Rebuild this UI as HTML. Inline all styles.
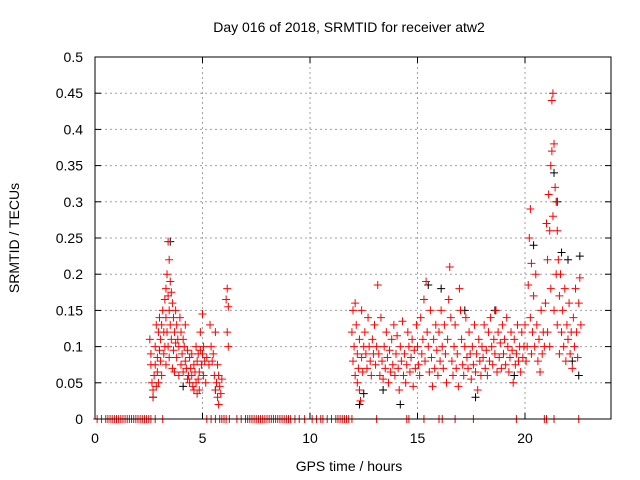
<!DOCTYPE html>
<html><head><meta charset="utf-8"><style>
html,body{margin:0;padding:0;background:#fff;}
svg{display:block;font-family:"Liberation Sans",sans-serif;}
</style></head><body>
<svg id="chart" width="640" height="480" xmlns="http://www.w3.org/2000/svg">
<text x="349" y="32" text-anchor="middle" font-size="14">Day 016 of 2018, SRMTID for receiver atw2</text>
<text x="349" y="471" text-anchor="middle" font-size="14">GPS time / hours</text>
<text transform="translate(19,238) rotate(-90)" text-anchor="middle" font-size="14">SRMTID / TECUs</text>
<g id="grid"></g>
<g id="ticks"></g>
<g id="black"></g>
<g id="red"></g>
<rect x="95" y="57" width="516" height="362" fill="none" stroke="#000" stroke-width="1"/>
</svg>
<script>
const xTicks=[0,5,10,15,20];
const yTicks=[0,0.05,0.1,0.15,0.2,0.25,0.3,0.35,0.4,0.45,0.5];
const yTickLabels=["0","0.05","0.1","0.15","0.2","0.25","0.3","0.35","0.4","0.45","0.5"];
const xMax=24, yMax=0.5;
const zeroHours=[0.1,0.3,0.5,0.6,0.7,0.8,0.9,1.0,1.1,1.2,1.3,1.4,1.5,1.6,1.7,1.8,1.9,2.0,2.1,2.2,2.3,2.4,2.5,2.6,2.8,3.15,5.2,5.4,5.6,5.8,5.9,6.0,6.1,6.25,6.6,6.8,7.0,7.1,7.2,7.3,7.4,7.5,7.6,7.7,7.8,7.9,8.0,8.1,8.2,8.3,8.4,8.5,8.6,8.7,8.8,8.9,9.0,9.1,9.3,9.5,9.75,10.1,10.3,10.5,10.6,10.8,11.0,11.2,11.3,11.4,11.5,11.6,11.7,11.8,11.95,13.1,14.5,14.6,15.3,16.0,16.15,16.75,17.6,19.6,20.9,21.0,21.35,22.5];
const blackPts=[[2.7,0.03],[3.5,0.245],[5.6,0.04],[12.3,0.02],[12.5,0.035],[15.5,0.185],[16.1,0.18],[17.2,0.15],[18.6,0.15],[20.4,0.24],[21.35,0.34],[21.5,0.3],[21.7,0.23],[22.0,0.22],[22.55,0.225],[22.5,0.06],[22.2,0.08],[17.7,0.03],[14.2,0.02],[4.1,0.045],[13.4,0.04],[19.5,0.06]];
const redPts=[[2.55,0.11],[2.6,0.09],[2.6,0.075],[2.65,0.05],[2.7,0.04],[2.7,0.03],[2.75,0.06],[2.8,0.1],[2.8,0.075],[2.85,0.13],[2.85,0.045],[2.9,0.085],[2.9,0.065],[2.95,0.12],[2.95,0.05],[3.0,0.14],[3.0,0.095],[3.05,0.08],[3.05,0.11],[3.1,0.13],[3.1,0.06],
[3.15,0.15],[3.2,0.12],[3.2,0.09],[3.25,0.165],[3.25,0.1],[3.3,0.18],[3.3,0.14],[3.3,0.075],[3.35,0.2],[3.35,0.12],[3.4,0.245],[3.4,0.17],[3.4,0.1],[3.45,0.22],[3.45,0.15],[3.45,0.085],[3.5,0.19],[3.5,0.13],[3.55,0.175],[3.55,0.11],[3.6,0.16],[3.6,0.07],[3.65,0.14],[3.65,0.095],[3.7,0.12],[3.7,0.065],[3.75,0.105],[3.75,0.15],[3.8,0.13],[3.8,0.085],
[3.85,0.11],[3.9,0.1],[3.9,0.06],[3.95,0.14],[4.0,0.12],[4.0,0.075],[4.05,0.09],[4.1,0.11],[4.1,0.065],[4.15,0.1],[4.2,0.08],[4.2,0.13],[4.25,0.07],[4.3,0.095],[4.3,0.055],[4.35,0.06],[4.4,0.085],[4.4,0.05],[4.45,0.07],[4.5,0.09],[4.5,0.06],[4.55,0.045],[4.6,0.075],[4.6,0.04],[4.65,0.065],
[4.7,0.05],[4.7,0.1],[4.75,0.035],[4.75,0.08],[4.8,0.055],[4.8,0.09],[4.85,0.04],[4.85,0.065],[4.9,0.095],[4.9,0.12],[4.95,0.075],[5.0,0.145],[5.0,0.09],[5.05,0.06],[5.05,0.1],[5.1,0.08],[5.15,0.05],[5.2,0.085],
[5.3,0.075],[5.35,0.13],[5.4,0.1],[5.45,0.08],[5.5,0.09],[5.55,0.06],[5.6,0.12],[5.6,0.04],[5.65,0.05],[5.7,0.03],[5.7,0.075],[5.75,0.02],[5.75,0.06],[5.8,0.045],[5.85,0.035],[5.9,0.055],[6.1,0.165],[6.15,0.18],[6.15,0.12],[6.2,0.155],[6.2,0.1],
[11.95,0.12],[12.0,0.15],[12.0,0.08],[12.05,0.1],[12.1,0.16],[12.1,0.06],[12.15,0.13],[12.2,0.09],[12.2,0.05],[12.25,0.07],[12.3,0.11],[12.3,0.04],[12.35,0.025],[12.4,0.085],[12.4,0.15],[12.45,0.065],[12.5,0.1],[12.55,0.12],[12.6,0.09],[12.65,0.07],[12.7,0.14],[12.75,0.1],[12.8,0.08],[12.85,0.06],[12.9,0.11],[12.95,0.09],
[13.0,0.13],[13.05,0.075],[13.1,0.1],[13.15,0.185],[13.2,0.09],[13.25,0.06],[13.3,0.14],[13.35,0.08],[13.4,0.055],[13.45,0.1],[13.5,0.07],[13.55,0.12],[13.6,0.085],[13.65,0.05],[13.7,0.095],[13.75,0.065],[13.8,0.11],[13.85,0.075],[13.9,0.13],[13.95,0.06],
[14.0,0.09],[14.05,0.115],[14.1,0.07],[14.15,0.04],[14.2,0.1],[14.25,0.08],[14.3,0.135],[14.35,0.06],[14.4,0.09],[14.45,0.05],[14.5,0.075],[14.55,0.12],[14.6,0.1],[14.65,0.065],[14.7,0.085],[14.75,0.11],[14.8,0.045],[14.85,0.095],[14.9,0.07],[14.95,0.13],
[15.0,0.1],[15.05,0.075],[15.1,0.06],[15.15,0.14],[15.2,0.09],[15.25,0.11],[15.3,0.165],[15.35,0.08],[15.4,0.19],[15.45,0.12],[15.5,0.1],[15.55,0.065],[15.6,0.15],[15.65,0.085],[15.7,0.045],[15.75,0.11],[15.8,0.07],[15.85,0.13],[15.9,0.095],[15.95,0.06],
[16.0,0.12],[16.05,0.08],[16.1,0.15],[16.15,0.1],[16.2,0.07],[16.25,0.13],[16.3,0.09],[16.35,0.05],[16.4,0.11],[16.45,0.165],[16.5,0.21],[16.55,0.14],[16.6,0.08],[16.65,0.06],[16.7,0.1],[16.75,0.13],[16.8,0.07],[16.85,0.09],[16.9,0.045],[16.95,0.18],
[17.0,0.15],[17.05,0.11],[17.1,0.075],[17.15,0.06],[17.2,0.1],[17.25,0.14],[17.3,0.085],[17.35,0.07],[17.4,0.12],[17.45,0.09],[17.5,0.055],[17.55,0.1],[17.6,0.075],[17.65,0.13],[17.7,0.065],[17.75,0.09],[17.8,0.04],[17.85,0.11],[17.9,0.08],[17.95,0.06],
[18.0,0.1],[18.05,0.085],[18.1,0.13],[18.15,0.07],[18.2,0.095],[18.25,0.06],[18.3,0.12],[18.35,0.08],[18.4,0.14],[18.45,0.1],[18.5,0.075],[18.55,0.11],[18.6,0.09],[18.65,0.15],[18.7,0.065],[18.75,0.12],[18.8,0.085],[18.85,0.105],[18.9,0.07],[18.95,0.13],
[19.0,0.09],[19.05,0.11],[19.1,0.075],[19.15,0.14],[19.2,0.1],[19.25,0.065],[19.3,0.085],[19.35,0.12],[19.4,0.095],[19.45,0.05],[19.5,0.11],[19.55,0.075],[19.6,0.09],[19.65,0.13],[19.7,0.08],[19.75,0.1],[19.8,0.065],[19.85,0.12],[19.9,0.085],[19.95,0.1],
[20.0,0.13],[20.05,0.08],[20.1,0.1],[20.15,0.185],[20.2,0.25],[20.25,0.29],[20.25,0.14],[20.3,0.215],[20.3,0.09],[20.35,0.12],[20.4,0.17],[20.45,0.1],[20.5,0.2],[20.55,0.13],[20.6,0.08],[20.65,0.11],[20.7,0.065],[20.75,0.15],[20.8,0.09],[20.85,0.12],[20.9,0.1],[20.95,0.16],
[21.0,0.27],[21.05,0.22],[21.05,0.12],[21.1,0.31],[21.15,0.26],[21.15,0.1],[21.2,0.35],[21.2,0.18],[21.25,0.37],[21.25,0.44],[21.3,0.45],[21.3,0.28],[21.35,0.38],[21.35,0.15],[21.4,0.32],[21.45,0.3],[21.45,0.2],[21.5,0.26],[21.5,0.13],
[21.55,0.22],[21.6,0.17],[21.6,0.09],[21.65,0.2],[21.7,0.12],[21.75,0.15],[21.8,0.1],[21.85,0.18],[21.9,0.08],[21.95,0.13],[22.0,0.11],[22.05,0.16],[22.1,0.09],[22.15,0.12],[22.2,0.07],[22.25,0.14],[22.3,0.1],[22.35,0.18],[22.4,0.12],[22.45,0.085],[22.5,0.16],[22.55,0.195],[22.6,0.13]];

const L=95,R=611,T=57,B=419;
const sx=v=>L+(v/xMax)*(R-L);
const sy=v=>B-(v/yMax)*(B-T);
const NS="http://www.w3.org/2000/svg";
function mk(tag,parent){const e=document.createElementNS(NS,tag);parent.appendChild(e);return e;}
const grid=document.getElementById('grid'),ticks=document.getElementById('ticks');
xTicks.forEach(t=>{
  const x=sx(t);
  if(t>0){const g=mk('line',grid);g.setAttribute('x1',x);g.setAttribute('x2',x);g.setAttribute('y1',T);g.setAttribute('y2',B);g.setAttribute('stroke','#a0a0a0');g.setAttribute('stroke-dasharray','2,3');
  
  }
  [[B,B-6],[T,T+6]].forEach(p=>{const k=mk('line',ticks);k.setAttribute('x1',x);k.setAttribute('x2',x);k.setAttribute('y1',p[0]);k.setAttribute('y2',p[1]);k.setAttribute('stroke','#000');
  
  });
  const lb=mk('text',ticks);lb.setAttribute('x',x);lb.setAttribute('y',443);lb.setAttribute('text-anchor','middle');lb.setAttribute('font-size','14');lb.textContent=String(t);
  
  
});
yTicks.forEach((t,i)=>{
  const y=sy(t);
  if(t>0&&t<yMax){const g=mk('line',grid);g.setAttribute('x1',L);g.setAttribute('x2',R);g.setAttribute('y1',y);g.setAttribute('y2',y);g.setAttribute('stroke','#a0a0a0');g.setAttribute('stroke-dasharray','2,3');
  
  }
  [[L,L+6],[R,R-6]].forEach(p=>{const k=mk('line',ticks);k.setAttribute('x1',p[0]);k.setAttribute('x2',p[1]);k.setAttribute('y1',y);k.setAttribute('y2',y);k.setAttribute('stroke','#000');
  
  });
  const lb=mk('text',ticks);lb.setAttribute('x',83);lb.setAttribute('y',y+5);lb.setAttribute('text-anchor','end');lb.setAttribute('font-size','14');lb.textContent=yTickLabels[i];
  
  
});
function plus(parent,t,v,color){
  const x=sx(t),y=sy(v);
  const p=mk('path',parent);
  p.setAttribute('d','M'+(x-4)+' '+y+'H'+(x+4)+'M'+x+' '+(y-4)+'V'+(y+4));
  p.setAttribute('stroke',color);p.setAttribute('stroke-width','1');p.setAttribute('fill','none');
  
  
}
const bg=document.getElementById('black'),rg=document.getElementById('red');
blackPts.forEach(p=>plus(bg,p[0],p[1],'#000'));
redPts.forEach(p=>plus(rg,p[0],p[1],'#ff0000'));
zeroHours.forEach(h=>plus(rg,h,0,'#ff0000'));
</script>
</body></html>
